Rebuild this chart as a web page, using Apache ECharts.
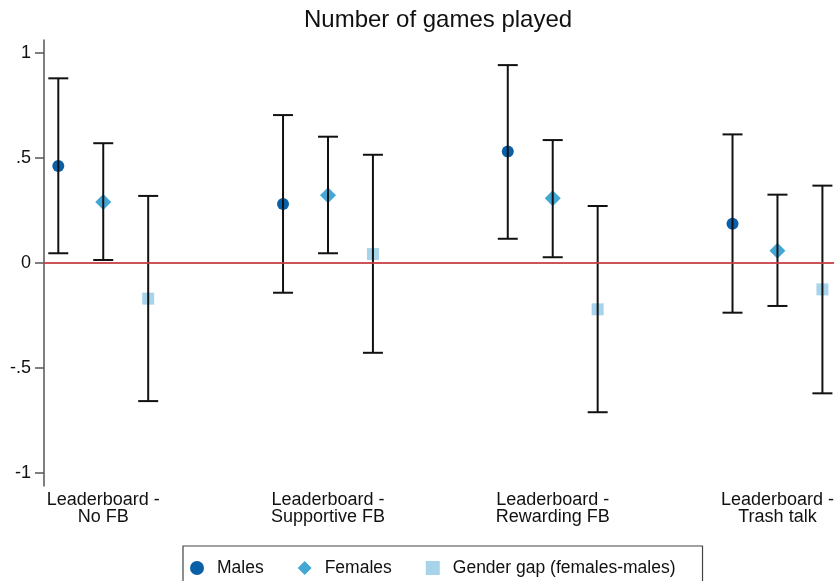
<!DOCTYPE html>
<html>
<head>
<meta charset="utf-8">
<title>Number of games played</title>
<script src="https://cdn.jsdelivr.net/npm/echarts@6/dist/echarts.min.js"></script>
<style>
  html, body { margin: 0; padding: 0; background: #fff; }
  #chart { width: 837px; height: 581px; }
</style>
</head>
<body>
<div id="chart"></div>
<script>
// Treatment arms shown along the horizontal axis
const categories = [
  'Leaderboard -\nNo FB',
  'Leaderboard -\nSupportive FB',
  'Leaderboard -\nRewarding FB',
  'Leaderboard -\nTrash talk'
];

// Point estimates and 95% confidence bounds
const malesEst = [0.460, 0.280, 0.529, 0.186];
const malesLo  = [0.045, -0.143, 0.114, -0.238];
const malesHi  = [0.878, 0.703, 0.941, 0.611];

const femalesEst = [0.289, 0.321, 0.307, 0.057];
const femalesLo  = [0.013, 0.045, 0.026, -0.206];
const femalesHi  = [0.569, 0.600, 0.584, 0.324];

const gapEst = [-0.171, 0.041, -0.222, -0.127];
const gapLo  = [-0.659, -0.429, -0.712, -0.622];
const gapHi  = [0.318, 0.514, 0.270, 0.367];

const yTicks = [-1, -0.5, 0, 0.5, 1];

const seriesNames = ['Males', 'Females', 'Gender gap (females-males)'];
const colors = ['#0b5fa9', '#43a7d6', '#a8d4eb'];
const symbols = ['circle', 'diamond', 'rect'];
const symbolSizes = [12, 16, 12];
const offsets = [-0.2, 0, 0.2];

const FONT = "'Liberation Sans', Arial, Helvetica, sans-serif";
const catPos = categories.map((_, i) => i + 1);

const groups = [
  { est: malesEst, lo: malesLo, hi: malesHi },
  { est: femalesEst, lo: femalesLo, hi: femalesHi },
  { est: gapEst, lo: gapLo, hi: gapHi }
];

const series = [];

// Reference line at zero
series.push({
  name: 'zero',
  type: 'line',
  data: [],
  z: 1,
  silent: true,
  markLine: {
    silent: true,
    symbol: ['none', 'none'],
    label: { show: false },
    lineStyle: { color: '#e8444c', width: 1.5, type: 'solid' },
    data: [{ yAxis: 0 }]
  }
});

// Point estimates
groups.forEach((g, k) => {
  series.push({
    name: seriesNames[k],
    type: 'scatter',
    symbol: symbols[k],
    symbolSize: symbolSizes[k],
    itemStyle: { color: colors[k], opacity: 1 },
    z: 2,
    data: g.est.map((v, i) => [catPos[i] + offsets[k], v])
  });
});

// Confidence-interval whiskers with end caps
const capHalf = 10;
groups.forEach((g, k) => {
  series.push({
    name: seriesNames[k] + ' CI',
    type: 'custom',
    z: 3,
    silent: true,
    data: g.lo.map((v, i) => [catPos[i] + offsets[k], v, g.hi[i]]),
    renderItem: function (params, api) {
      const x = api.value(0);
      const pLo = api.coord([x, api.value(1)]);
      const pHi = api.coord([x, api.value(2)]);
      const style = { stroke: '#111', lineWidth: 2 };
      return {
        type: 'group',
        children: [
          { type: 'line', shape: { x1: pLo[0], y1: pLo[1], x2: pHi[0], y2: pHi[1] }, style: style },
          { type: 'line', shape: { x1: pLo[0] - capHalf, y1: pLo[1], x2: pLo[0] + capHalf, y2: pLo[1] }, style: style },
          { type: 'line', shape: { x1: pHi[0] - capHalf, y1: pHi[1], x2: pHi[0] + capHalf, y2: pHi[1] }, style: style }
        ]
      };
    }
  });
});

const chart = echarts.init(document.getElementById('chart'), null, { renderer: 'canvas' });

chart.setOption({
  animation: false,
  backgroundColor: '#ffffff',
  textStyle: { fontFamily: FONT },
  title: {
    text: 'Number of games played',
    left: 299,
    top: 3,
    textStyle: { fontFamily: FONT, fontSize: 24, fontWeight: 'normal', color: '#111' }
  },
  grid: { left: 44, right: 0, top: 40, bottom: 95, containLabel: false },
  xAxis: {
    type: 'value',
    min: 0.7364,
    max: 4.2494,
    splitLine: { show: false },
    axisLine: { show: true, lineStyle: { color: '#555', width: 1.5 } },
    axisTick: { show: false },
    axisLabel: {
      customValues: catPos,
      margin: 6,
      fontFamily: FONT,
      fontSize: 18,
      lineHeight: 17,
      color: '#111',
      formatter: function (v) {
        const idx = catPos.indexOf(Math.round(v));
        return idx >= 0 ? categories[idx] : '';
      }
    }
  },
  yAxis: {
    type: 'value',
    min: -1.0633,
    max: 1.0605,
    splitLine: { show: false },
    axisLine: { show: true, lineStyle: { color: '#555', width: 1.5 } },
    axisTick: { show: true, inside: false, customValues: yTicks, length: 9, lineStyle: { color: '#555', width: 1.5 } },
    axisLabel: {
      customValues: yTicks,
      margin: 13,
      fontFamily: FONT,
      fontSize: 18,
      color: '#111',
      formatter: function (v) {
        if (v === 0) return '0';
        return String(v).replace(/^(-?)0\./, '$1.');
      }
    }
  },
  legend: {
    data: seriesNames.map((n, k) => ({ name: n, icon: symbols[k] })),
    left: 183,
    top: 546,
    orient: 'horizontal',
    itemWidth: 14,
    itemHeight: 14,
    itemGap: 34,
    padding: [13, 27, 30, 7],
    borderColor: '#444',
    borderWidth: 1.2,
    backgroundColor: '#fff',
    selectedMode: false,
    textStyle: { fontFamily: FONT, fontSize: 17.5, color: '#111', padding: [0, 0, 0, 8] }
  },
  series: series
});
</script>
</body>
</html>
